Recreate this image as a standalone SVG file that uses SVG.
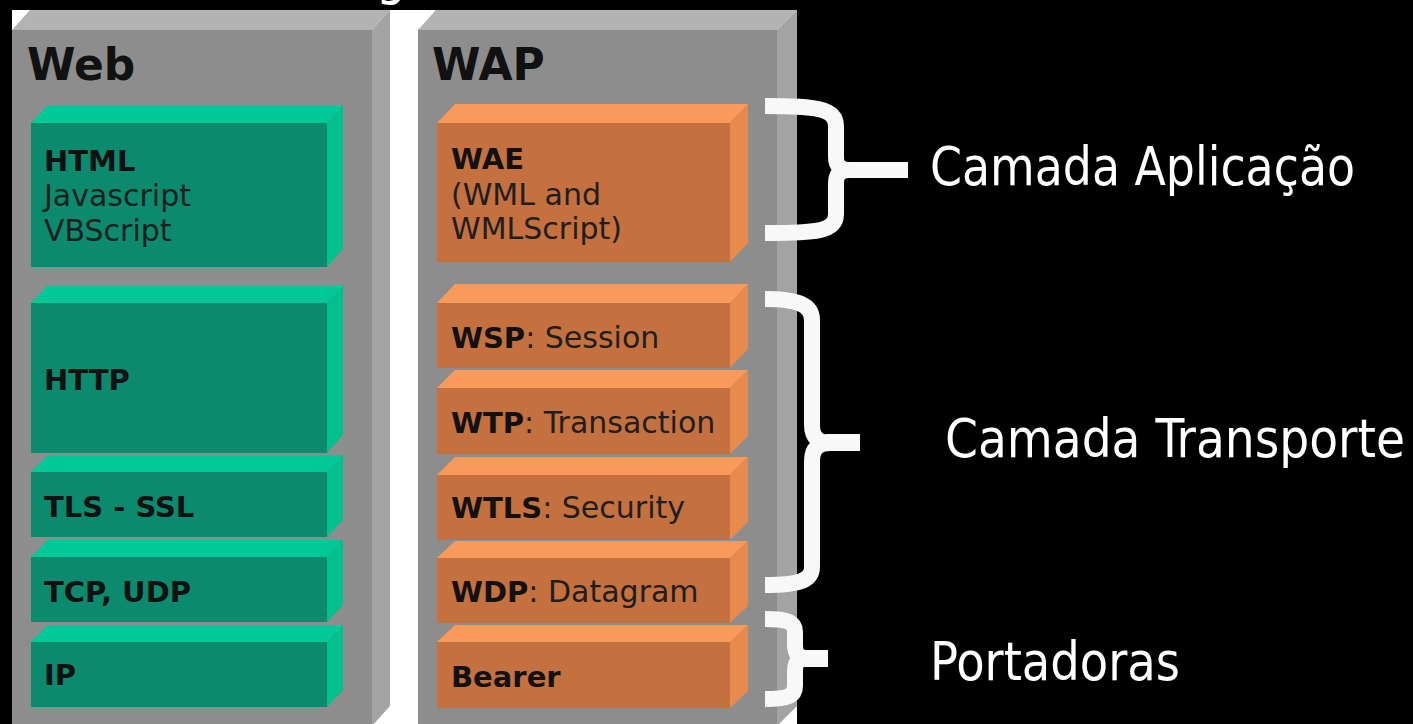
<svg xmlns="http://www.w3.org/2000/svg" width="1413" height="724" viewBox="0 0 1413 724">
  <style>
    .g-front{fill:#8d8d8d}
    .g-top{fill:#b3b3b3}
    .g-side{fill:#a3a3a3}
    .gr-front{fill:#0b8a6e}
    .gr-top{fill:#00c896}
    .gr-side{fill:#00c08e}
    .or-front{fill:#c4703f}
    .or-top{fill:#f89a5b}
    .or-side{fill:#e88a4c}
    .title{font-family:"DejaVu Sans",Verdana,sans-serif;font-weight:bold;font-size:44px;fill:#111}
    .tb{font-family:"DejaVu Sans",Verdana,sans-serif;font-weight:bold;font-size:29px;fill:#111}
    .tr{font-family:"DejaVu Sans",Verdana,sans-serif;font-weight:normal;font-size:30px;fill:#1e1e1e}
    .lbl{font-family:"DejaVu Sans Condensed","DejaVu Sans",sans-serif;font-stretch:condensed;font-size:53px;fill:#ffffff}
    .brace{fill:none;stroke:#f8f8f8;stroke-width:16;stroke-linecap:butt}
    .bar{fill:#f8f8f8}
  </style>
  <rect x="0" y="0" width="1413" height="724" fill="#000"/>
  <rect x="12" y="10" width="785" height="714" fill="#fff"/>

  <!-- cut-off title fragment -->
  <text x="376" y="-6" class="lbl">g</text>

  <g id="web-stack">
    <g id="web-frame">
      <rect class="g-front" x="12" y="30" width="360" height="694"/>
      <polygon class="g-top" points="12,30 30,10 390,10 372,30"/>
      <polygon class="g-side" points="372,30 390,10 390,706 372,726"/>
      <text class="title" x="27" y="80">Web</text>
    </g>
    <g id="web-html">
      <rect class="gr-front" x="31" y="123" width="296" height="144"/>
      <polygon class="gr-top" points="31,123 48,105 343,105 327,123"/>
      <polygon class="gr-side" points="327,123 343,105 343,249 327,267"/>
      <text class="tb" x="44" y="171">HTML</text>
      <text class="tr" x="44" y="206">Javascript</text>
      <text class="tr" x="44" y="241">VBScript</text>
    </g>
    <g id="web-http">
      <rect class="gr-front" x="31" y="303" width="296" height="150"/>
      <polygon class="gr-top" points="31,303 48,285 343,285 327,303"/>
      <polygon class="gr-side" points="327,303 343,285 343,435 327,453"/>
      <text class="tb" x="44" y="390">HTTP</text>
    </g>
    <g id="web-tls">
      <rect class="gr-front" x="31" y="472" width="296" height="65"/>
      <polygon class="gr-top" points="31,472 48,455 343,455 327,472"/>
      <polygon class="gr-side" points="327,472 343,455 343,520 327,537"/>
      <text class="tb" x="44" y="517">TLS - SSL</text>
    </g>
    <g id="web-tcp">
      <rect class="gr-front" x="31" y="557" width="296" height="65"/>
      <polygon class="gr-top" points="31,557 48,540 343,540 327,557"/>
      <polygon class="gr-side" points="327,557 343,540 343,605 327,622"/>
      <text class="tb" x="44" y="602">TCP, UDP</text>
    </g>
    <g id="web-ip">
      <rect class="gr-front" x="31" y="642" width="296" height="65"/>
      <polygon class="gr-top" points="31,642 48,625 343,625 327,642"/>
      <polygon class="gr-side" points="327,642 343,625 343,690 327,707"/>
      <text class="tb" x="44" y="685">IP</text>
    </g>
  </g>

  <g id="wap-stack">
    <g id="wap-frame">
      <rect class="g-front" x="418" y="30" width="359" height="694"/>
      <polygon class="g-top" points="418,30 436,10 797,10 777,30"/>
      <polygon class="g-side" points="777,30 797,10 797,706 777,726"/>
      <text class="title" x="432" y="80">WAP</text>
    </g>
    <g id="wap-wae">
      <rect class="or-front" x="437" y="123" width="293" height="139"/>
      <polygon class="or-top" points="437,123 455,104 748,104 730,123"/>
      <polygon class="or-side" points="730,123 748,104 748,243 730,262"/>
      <text class="tb" x="451" y="169">WAE</text>
      <text class="tr" x="451" y="205">(WML and</text>
      <text class="tr" x="451" y="239">WMLScript)</text>
    </g>
    <g id="wap-wsp">
      <rect class="or-front" x="437" y="303" width="293" height="65"/>
      <polygon class="or-top" points="437,303 455,284 748,284 730,303"/>
      <polygon class="or-side" points="730,303 748,284 748,349 730,368"/>
      <text x="451" y="348"><tspan class="tb">WSP</tspan><tspan class="tr">: Session</tspan></text>
    </g>
    <g id="wap-wtp">
      <rect class="or-front" x="437" y="388" width="293" height="66"/>
      <polygon class="or-top" points="437,388 455,370 748,370 730,388"/>
      <polygon class="or-side" points="730,388 748,370 748,436 730,454"/>
      <text x="451" y="433"><tspan class="tb">WTP</tspan><tspan class="tr">: Transaction</tspan></text>
    </g>
    <g id="wap-wtls">
      <rect class="or-front" x="437" y="475" width="293" height="65"/>
      <polygon class="or-top" points="437,475 455,457 748,457 730,475"/>
      <polygon class="or-side" points="730,475 748,457 748,522 730,540"/>
      <text x="451" y="518"><tspan class="tb">WTLS</tspan><tspan class="tr">: Security</tspan></text>
    </g>
    <g id="wap-wdp">
      <rect class="or-front" x="437" y="558" width="293" height="65"/>
      <polygon class="or-top" points="437,558 455,541 748,541 730,558"/>
      <polygon class="or-side" points="730,558 748,541 748,606 730,623"/>
      <text x="451" y="602"><tspan class="tb">WDP</tspan><tspan class="tr">: Datagram</tspan></text>
    </g>
    <g id="wap-bearer">
      <rect class="or-front" x="437" y="642" width="293" height="66"/>
      <polygon class="or-top" points="437,642 455,625 748,625 730,642"/>
      <polygon class="or-side" points="730,642 748,625 748,691 730,708"/>
      <text class="tb" x="451" y="687">Bearer</text>
    </g>
  </g>

  <g id="connectors">
    <g id="brace-aplicacao">
      <path class="brace" d="M765,106 C815,106 836,108 836,126 L836,157 Q836,170 849,170 M849,170 Q836,170 836,183 L836,214 C836,232 815,233 765,233"/>
      <rect class="bar" x="845" y="162" width="63" height="16"/>
    </g>
    <g id="brace-transporte">
      <path class="brace" d="M765,299 C798,299 812,305 812,320 L812,425 Q812,443 830,443 M830,443 Q812,443 812,461 L812,567 C812,581 798,585 765,585"/>
      <rect class="bar" x="826" y="434" width="34" height="17"/>
    </g>
    <g id="brace-portadoras">
      <path class="brace" d="M765,619 C788,619 795,622 795,632 L795,645 Q795,658 806,658 M806,658 Q795,658 795,671 L795,686 C795,696 788,699 765,699"/>
      <rect class="bar" x="802" y="650" width="26" height="17"/>
    </g>
  </g>

  <g id="labels">
    <text class="lbl" x="930" y="185" textLength="425" lengthAdjust="spacingAndGlyphs">Camada Aplicação</text>
    <text class="lbl" x="945" y="457" textLength="460" lengthAdjust="spacingAndGlyphs">Camada Transporte</text>
    <text class="lbl" x="930" y="680" textLength="250" lengthAdjust="spacingAndGlyphs">Portadoras</text>
  </g>
</svg>
